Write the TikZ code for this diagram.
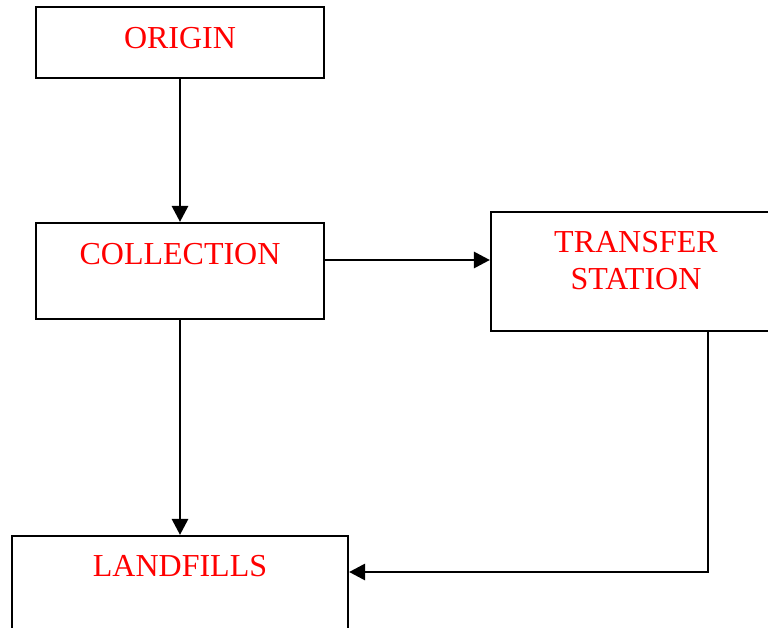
\documentclass[tikz,border=0pt]{standalone}
\usepackage{fontspec}
\setmainfont{Liberation Serif}
\usetikzlibrary{arrows.meta}

\begin{document}
\begin{tikzpicture}[x=0.75pt, y=-0.75pt,
  box/.style={draw, line width=1.6pt, minimum width=216pt, inner sep=0pt},
  lbl/.style={anchor=base, text=red, font=\fontsize{24}{28}\selectfont},
  flow/.style={line width=2.2pt, -{Triangle[length=12pt, width=12pt]}}]

\useasboundingbox (0,0) rectangle (768,628);
\clip (0,0) rectangle (768,628);

%Draw boxes
\node[box, minimum height=53.25pt] (origin) at (180, 42.5) {};
\node[box, minimum height=72pt] (collection) at (180, 271) {};
\node[box, minimum width=217.5pt, minimum height=89.25pt] (transfer) at (636, 271.5) {};
\node[box, minimum width=252pt, minimum height=81pt] (landfills) at (180, 590) {};

%Draw labels
\node[lbl] (originlbl) at (180, 48) {ORIGIN};
\node[lbl] (collectionlbl) at (180, 264) {COLLECTION};
\node[lbl] (transferlbl) at (636, 252) {TRANSFER};
\node[lbl] (stationlbl) at (636, 289) {STATION};
\node[lbl] (landfillslbl) at (180, 576) {LANDFILLS};

%Draw arrows
\coordinate (c2t) at ([yshift=8.25pt]collection.east);
\coordinate (t2l) at ([xshift=54pt]transfer.south);
\coordinate (l2t) at ([yshift=13.5pt]landfills.east);

\draw[flow] (origin) -- (collection);
\draw[flow] (c2t) -- (c2t -| transfer.west);
\draw[flow] (collection) -- (landfills);
\draw[flow] (t2l) |- (l2t);

\end{tikzpicture}
\end{document}
